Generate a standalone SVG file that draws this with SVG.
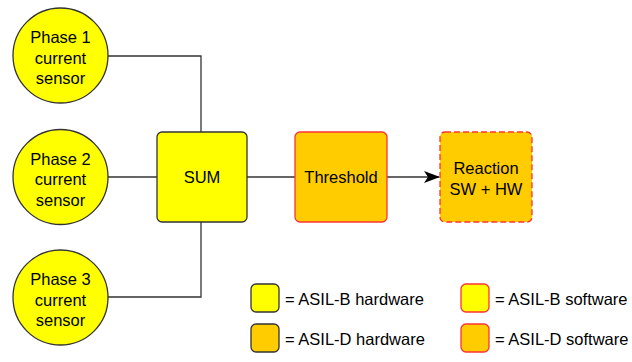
<svg xmlns="http://www.w3.org/2000/svg" width="632" height="362" viewBox="0 0 632 362">
<style>
text{font-family:"Liberation Sans",Arial,sans-serif;font-size:16.5px;fill:#000;text-anchor:middle}
.lt{text-anchor:start}
.hwB{fill:#ffff00;stroke:#333;stroke-width:1.3}
.hwD{fill:#ffcc00;stroke:#333;stroke-width:1.3}
.swB{fill:#ffff00;stroke:#ff3333;stroke-width:1.3}
.swD{fill:#ffcc00;stroke:#ff3333;stroke-width:1.3}
.dash{stroke-dasharray:6 3}
.edge{fill:none;stroke:#333;stroke-width:1.3}
</style>
<defs>
<marker id="arr" viewBox="0 0 16 12" refX="15" refY="6" markerWidth="16" markerHeight="12" markerUnits="userSpaceOnUse" orient="auto">
<path d="M0,0 L16,6 L0,12 L4,6 Z" fill="#000"/>
</marker>
</defs>
<g id="connectors">
<path class="edge" d="M108,56 H201 V132"/>
<path class="edge" d="M108,177 H157"/>
<path class="edge" d="M108,297 H201 V222"/>
<path class="edge" d="M247,177 H295"/>
<path class="edge" d="M387,177 H439" stroke="#000" marker-end="url(#arr)"/>
</g>
<g id="phase1">
<circle class="hwB" cx="60.5" cy="55.5" r="47.5"/>
<text x="60.5" y="43">Phase 1</text>
<text x="60.5" y="63.5">current</text>
<text x="60.5" y="84">sensor</text>
</g>
<g id="phase2">
<circle class="hwB" cx="60.5" cy="177" r="47.5"/>
<text x="60.5" y="164.5">Phase 2</text>
<text x="60.5" y="185">current</text>
<text x="60.5" y="205.5">sensor</text>
</g>
<g id="phase3">
<circle class="hwB" cx="60.5" cy="297.5" r="47.5"/>
<text x="60.5" y="285">Phase 3</text>
<text x="60.5" y="305.5">current</text>
<text x="60.5" y="326">sensor</text>
</g>
<g id="sum">
<rect class="hwB" x="157" y="132" width="90" height="90" rx="5"/>
<text x="202" y="183">SUM</text>
</g>
<g id="threshold">
<rect class="swD" x="295" y="132" width="92" height="90" rx="5"/>
<text x="341" y="183">Threshold</text>
</g>
<g id="reaction">
<rect class="swD dash" x="440" y="132" width="92" height="90" rx="5"/>
<text x="486" y="174">Reaction</text>
<text x="486" y="195">SW + HW</text>
</g>
<g id="legend-asil-b-hw">
<rect class="hwB" x="251" y="284" width="28" height="28" rx="5"/>
<text class="lt" x="285" y="305">= ASIL-B hardware</text>
</g>
<g id="legend-asil-d-hw">
<rect class="hwD" x="251" y="324" width="28" height="28" rx="5"/>
<text class="lt" x="285" y="345">= ASIL-D hardware</text>
</g>
<g id="legend-asil-b-sw">
<rect class="swB" x="461" y="284" width="28" height="28" rx="5"/>
<text class="lt" x="495" y="305">= ASIL-B software</text>
</g>
<g id="legend-asil-d-sw">
<rect class="swD" x="461" y="324" width="28" height="28" rx="5"/>
<text class="lt" x="495" y="345">= ASIL-D software</text>
</g>
</svg>
